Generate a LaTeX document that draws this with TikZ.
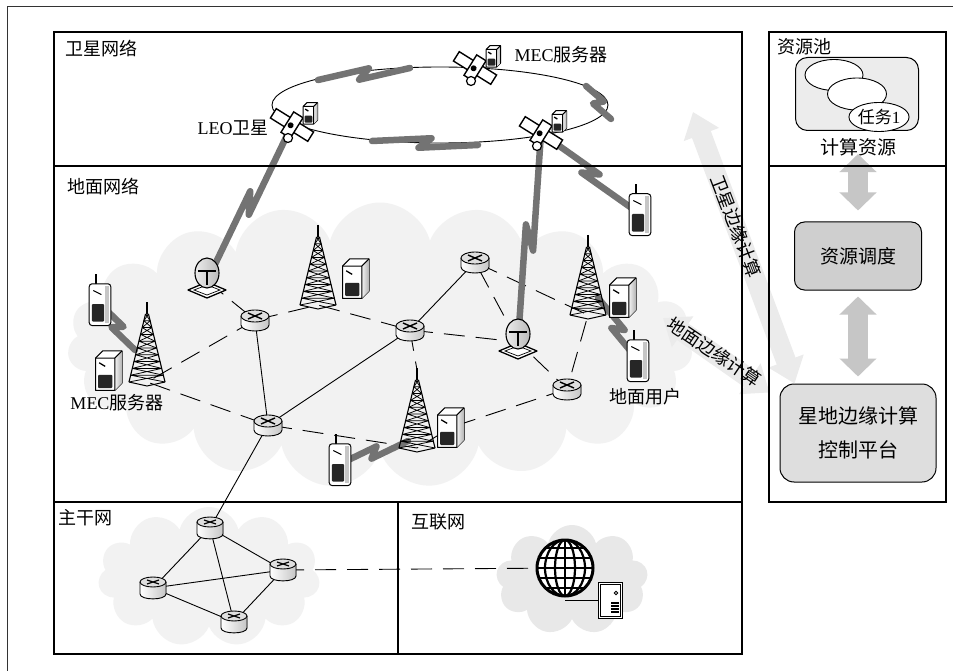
\documentclass[tikz,border=0pt]{standalone}
\usepackage{fontspec}
\setmainfont{Liberation Serif}
\newfontfamily\cjk{Noto Sans CJK SC}
\usetikzlibrary{shapes.symbols,shapes.geometric,arrows.meta,calc}

% small MEC server cube, drawn at the origin
\newcommand\mecshape{%
  \filldraw[fill=white,line width=1pt,line join=round] (-12,-10) -- (-6,-16) -- (10,-16) -- (10,11) -- (4,17) -- (-12,17) -- cycle;
  \fill[left color=gray!10,right color=gray!60] (4,-10) -- (10,-16) -- (10,11) -- (4,17) -- cycle;
  \draw[line width=1pt,line join=round] (-12,-10) -- (4,-10) -- (10,-16) (4,-10) -- (4,17);
  \fill[black!85,rounded corners=1pt] (-10,4) rectangle (2,15);
  \draw[line width=1.3pt] (-9,-6) -- (-4,-3);
}

% lightning style radio link
\newcommand\zap[2]{\draw[wireless] (#1) -- ($(#1)!0.56!(#2)!5pt!90:(#2)$) -- ($(#1)!0.44!(#2)!5pt!-90:(#2)$) -- (#2);}

\tikzset{
  lbl/.style={font=\fontsize{18}{20}\selectfont, inner sep=0pt},
  frame/.style={line width=1.3pt},
  wire/.style={line width=0.9pt},
  dline/.style={line width=0.9pt, dash pattern=on 21pt off 11pt},
  wireless/.style={draw=black!55, line width=6.5pt, line join=round, line cap=round},
  puff/.style={cloud, cloud puffs=#1, cloud ignores aspect, draw=none},
  larrow/.style={draw=gray!16, line width=20pt, {Triangle[width=36pt,length=24pt]}-{Triangle[width=36pt,length=24pt]}},
  darrow/.style={draw=gray!45, line width=20pt, {Triangle[width=36pt,length=18pt]}-{Triangle[width=36pt,length=18pt]}},
  gbox/.style={draw, line width=1pt, rounded corners=12pt, align=center},
  pool/.style={draw, ellipse, fill=white, line width=0.9pt, inner sep=0pt},
  router/.pic={
    \fill[left color=white,right color=gray!45] (-14,-4) -- (-14,5) .. controls (-14,13) and (14,13) .. (14,5) -- (14,-4) -- cycle;
    \draw[line width=0.9pt] (-14,-4) -- (-14,5) .. controls (-14,13) and (14,13) .. (14,5) -- (14,-4);
    \filldraw[fill=gray!25,line width=0.9pt] (0,-4) ellipse[x radius=14,y radius=6];
    \draw[line width=1.4pt] (-7,-7) -- (7,-1) (-7,-1) -- (7,-7);
  },
  corerouter/.pic={
    \fill[left color=white,right color=gray!45] (-13,-6) -- (-13,6) .. controls (-13,12.5) and (13,12.5) .. (13,6) -- (13,-6) -- cycle;
    \draw[line width=0.9pt] (-13,-6) -- (-13,6) .. controls (-13,12.5) and (13,12.5) .. (13,6) -- (13,-6);
    \filldraw[fill=gray!25,line width=0.9pt] (0,-6) ellipse[x radius=13,y radius=5];
    \draw[line width=1.2pt] (-6,-8) -- (6,-4) (-6,-4) -- (6,-8);
  },
  tower/.pic={
    \draw[line width=1.5pt] (0,-80) -- (0,-68);
    \draw[line width=1.1pt] (-1.5,-68) -- (-18,0) (1.5,-68) -- (18,0);
    \foreach \a in {0,...,9}{
      \draw[line width=0.75pt] ({-1.5-16.5*\a/10},{-68+6.8*\a}) -- ({1.5+16.5*(\a+1)/10},{-68+6.8*(\a+1)})
                               ({1.5+16.5*\a/10},{-68+6.8*\a}) -- ({-1.5-16.5*(\a+1)/10},{-68+6.8*(\a+1)})
                               ({-1.5-16.5*\a/10},{-68+6.8*\a}) -- ({1.5+16.5*\a/10},{-68+6.8*\a});
    }
    \draw[line width=1pt] (-18,0) -- (0,4) -- (18,0);
  },
  mec/.pic={\mecshape},
  phone/.pic={
    \draw[line width=1.6pt] (-3,-15) -- (-3,-22);
    \filldraw[fill=white,line width=1pt,rounded corners=3pt] (-8,-15) rectangle (8,16);
    \fill[gray!45] (4,-13) rectangle (6.5,14);
    \fill[black!85,rounded corners=1pt] (-6,0) rectangle (3,13);
    \draw[line width=1pt] (-5,-10) -- (1,-7);
  },
  dish/.pic={
    \filldraw[fill=white,line width=1.3pt,line join=round] (-19,9) -- (0,1) -- (19,9) -- (0,17) -- cycle;
    \draw[line width=0.7pt] (-13,9) -- (0,4) -- (13,9) -- (0,14) -- cycle;
    \filldraw[left color=gray!15,right color=gray!55,line width=1.1pt] (0,-8) ellipse[x radius=12,y radius=15];
    \draw[line width=1.4pt] (-9,-10) -- (9,-10) (0,-10) -- (0,4);
  },
  sat/.pic={
    \begin{scope}[rotate=-32]
      \filldraw[fill=white,line width=1.4pt] (-22,-5.5) rectangle (22,5.5);
      \filldraw[fill=white,line width=1.4pt] (-5.5,-12) rectangle (5.5,12);
      \fill (-1,1) circle (3);
    \end{scope}
    \filldraw[fill=white,line width=1.2pt] (-4,13) circle (4.5);
    \begin{scope}[shift={(19,-12)},scale=0.65]\mecshape\end{scope}
  },
  globe/.pic={
    \fill[white] (0,0) circle (28);
    \begin{scope}
      \clip (0,0) circle (28);
      \foreach \y in {-20,-10,0,10,20} \draw[line width=2.2pt] (-30,\y) -- (30,\y);
      \draw[line width=2.2pt] (0,-30) -- (0,30);
      \foreach \r in {10,20} \draw[line width=2.2pt] (0,0) ellipse[x radius=\r,y radius=28];
    \end{scope}
    \draw[line width=3pt] (0,0) circle (28);
  },
  pcsrv/.pic={
    \filldraw[fill=white,line width=1pt] (-12,-18) rectangle (12,18);
    \draw[line width=0.6pt] (-10,-16) rectangle (10,16);
    \draw[line width=0.8pt] (6,-7) circle (1.8);
    \foreach \y in {3,6,9,12} \draw[line width=1.8pt] (1,\y) -- (9,\y);
  }
}

\begin{document}
\begin{tikzpicture}[x=1pt,y=-1pt]
\useasboundingbox (0,0) rectangle (953,671);
\fill[white] (0,0) rectangle (953,671);

% clouds
\node[puff=19, fill=gray!10, minimum width=625pt, minimum height=285pt] (gcloud) at (380,345) {};
\node[puff=11, fill=gray!10, minimum width=222pt, minimum height=140pt] (bcloud) at (209,577) {};
\node[puff=9, fill=gray!18, minimum width=152pt, minimum height=110pt] (icloud) at (572,580) {};

% device positions
\coordinate (leo) at (292,125);
\coordinate (sat2) at (475,68);
\coordinate (sat3) at (541,133);
\coordinate (dish1) at (207,281);
\coordinate (dish2) at (518,342);
\coordinate (r1) at (255,320);
\coordinate (r2) at (410,330);
\coordinate (r3) at (268,425);
\coordinate (r4) at (475,262);
\coordinate (r5) at (567,389);
\coordinate (twL) at (147,382);
\coordinate (twC) at (318,305);
\coordinate (twR) at (588,315);
\coordinate (twB) at (417,448);
\coordinate (twBtop) at (417,370);
\coordinate (twLa) at (135,350);
\coordinate (twRa) at (598,298);
\coordinate (twBa) at (408,441);
\coordinate (mecL) at (110,370);
\coordinate (mecC) at (357,278);
\coordinate (mecR) at (624,297);
\coordinate (mecB) at (452,427);
\coordinate (phL) at (100,304);
\coordinate (phT) at (640,214);
\coordinate (phR) at (638,360);
\coordinate (phB) at (340,464);
\coordinate (b1) at (210,528);
\coordinate (b2) at (283,570);
\coordinate (b3) at (153,588);
\coordinate (b4) at (234,622);
\coordinate (globe) at (565,568);
\coordinate (pc) at (610,600);
% orbit points
\coordinate (o1) at (318,80);
\coordinate (o2) at (410,68);
\coordinate (o3) at (586,86);
\coordinate (o4) at (611,119);
\coordinate (o5) at (372,141);
\coordinate (o6) at (478,145);

% orbit
\draw[line width=0.9pt] (440,105) ellipse[x radius=168,y radius=38];

% terrestrial links
\draw[wire] (r1) -- (r3) -- (r2) -- (r4);
\draw[wire] (r3) -- (b1);
\draw[dline] (dish1) -- (r1) -- (twC) -- (r2) -- (dish2) -- (r5) -- (twR) -- (r4) -- (dish2);
\draw[dline] (r1) -- (twL) -- (r3) -- (twB) -- (mecB) -- (r5);
\draw[dline] (r2) -- (twBtop);
% backbone
\draw[wire] (b1) -- (b3) -- (b4) -- (b2) -- (b1) -- (b4);
\draw[wire] (b3) -- (b2);
\draw[dline] (b2) -- (globe);
\draw[wire] (globe |- pc) -- (pc);

% radio links
\zap{o1}{o2}
\zap{o5}{o6}
\zap{o3}{o4}
\zap{leo}{dish1}
\zap{sat3}{dish2}
\zap{sat3}{phT}
\zap{phL}{twLa}
\zap{twRa}{phR}
\zap{phB}{twBa}

% edge computing arrows
\node[gbox, fill=gray!26, minimum width=156pt, minimum height=98pt, rounded corners=14pt,
      font=\fontsize{20}{34}\selectfont\cjk] (ctrl) at (858,433) {星地边缘计算\\控制平台};
\coordinate (satedge) at (693,112);
\coordinate (gndedge) at (663,318);
\draw[larrow] (satedge) -- ($(ctrl.north west)+(15,0)$);
\draw[larrow] (gndedge) -- ($(ctrl.north west)+(-10,9)$);
\node[lbl, font=\fontsize{18}{20}\selectfont\cjk, rotate=-69] at (736,226) {卫星边缘计算};
\node[lbl, font=\fontsize{18}{20}\selectfont\cjk, rotate=-34] at (714,352) {地面边缘计算};

% devices
\foreach \p in {leo,sat2,sat3} \pic at (\p) {sat};
\foreach \p in {dish1,dish2} \pic at (\p) {dish};
\foreach \p in {twL,twC,twR,twB} \pic at (\p) {tower};
\foreach \p in {mecL,mecC,mecR,mecB} \pic[scale=1.2] at (\p) {mec};
\foreach \p in {phL,phT,phR,phB} \pic[scale=1.35] at (\p) {phone};
\foreach \p in {r1,r2,r3,r4,r5} \pic at (\p) {router};
\foreach \p in {b1,b2,b3,b4} \pic at (\p) {corerouter};
\pic at (globe) {globe};
\pic at (pc) {pcsrv};

% labels
\node[lbl, anchor=west] at (65,49) {\cjk 卫星网络};
\node[lbl] at (233,128) {LEO{\cjk 卫星}};
\node[lbl] at (561,55) {MEC{\cjk 服务器}};
\node[lbl, anchor=west] at (67,187) {\cjk 地面网络};
\node[lbl] at (117,403) {MEC{\cjk 服务器}};
\node[lbl] at (645,397) {\cjk 地面用户};
\node[lbl, anchor=west] at (58,518) {\cjk 主干网};
\node[lbl, anchor=west] at (411,522) {\cjk 互联网};

% resource side
\node[lbl, anchor=west] at (777,47) {\cjk 资源池};
\node[draw, line width=1pt, fill=gray!15, rounded corners=12pt, minimum width=123pt, minimum height=73pt] (respool) at (857,94) {};
\node[pool, minimum width=58pt, minimum height=31pt] (job3) at (834,75) {};
\node[pool, minimum width=59pt, minimum height=32pt] (job2) at (857,94) {};
\node[pool, minimum width=58pt, minimum height=29pt, font=\fontsize{17}{18}\selectfont] (job1) at (879,117) {{\cjk 任务}1};
\node[lbl, font=\fontsize{19}{20}\selectfont\cjk] (res) at (858,147) {计算资源};
\node[gbox, fill=gray!38, minimum width=127pt, minimum height=68pt, rounded corners=10pt,
      font=\fontsize{19}{22}\selectfont\cjk] (sched) at (858,256) {资源调度};
\draw[darrow, shorten <=-2pt, shorten >=11pt] (res.south) -- (sched.north);
\draw[darrow, shorten <=6pt, shorten >=7pt] (sched.south) -- (ctrl.north);

% frames
\draw[line width=0.9pt, draw=black!80] (7,6) rectangle (965,690);
\draw[frame] (54,32) rectangle (742,654);
\draw[frame] (54,166) -- (742,166) (54,502) -- (742,502) (398,502) -- (398,654);
\draw[frame] (769,32) rectangle (946,502);
\draw[frame] (769,166) -- (946,166);
\end{tikzpicture}
\end{document}
